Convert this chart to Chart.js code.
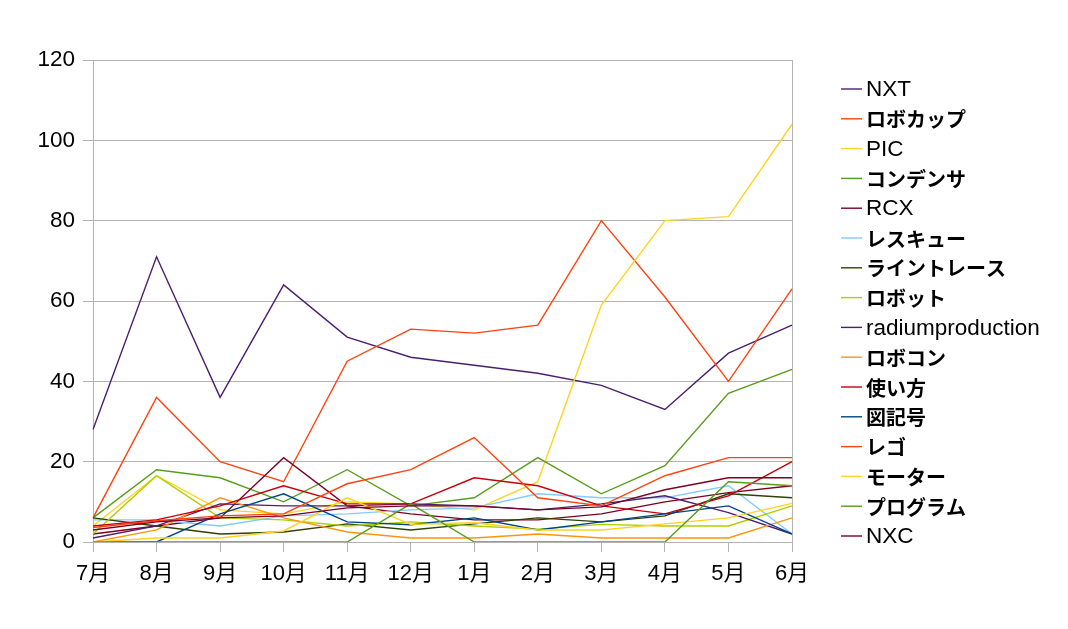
<!DOCTYPE html>
<html><head><meta charset="utf-8">
<script src="https://cdn.jsdelivr.net/npm/chart.js@4.4.0/dist/chart.umd.min.js"></script>
<style>html,body{margin:0;padding:0;background:#fff;overflow:hidden}#wrap{width:1068px;height:629px;position:relative}</style>
</head><body><div id="wrap"><canvas id="c" width="1068" height="629"></canvas></div>
<script>
const months = ['7月','8月','9月','10月','11月','12月','1月','2月','3月','4月','5月','6月'];
const yTicks = [0,20,40,60,80,100,120];

const NXT          = [28, 71, 36, 64, 51, 46, 44, 42, 39, 33, 47, 54];
const roboCup      = [6, 36, 20, 15, 45, 53, 52, 54, 80, 61, 40, 63];
const PIC          = [4, 16.5, 8, 7, 10, 9.5, 8, 15, 59, 80, 81, 104];
const condenser    = [6, 18, 16, 10, 18, 9, 11, 21, 12, 19, 37, 43];
const RCX          = [2, 4, 6, 21, 9, 7, 5.5, 5.5, 7, 10, 12.3, 14];
const rescue       = [5.5, 5.5, 4, 6.5, 7, 8, 8.5, 12, 11, 11, 14, 2];
const lineTrace    = [6, 4, 2, 2.5, 4.5, 3, 4.5, 6, 5, 6.5, 12, 11];
const robot        = [2, 16.5, 6, 5.5, 4, 5, 4, 3.2, 4.4, 4, 4, 9];
const radium       = [1, 4, 9.5, 9, 9, 9.5, 9, 8, 9.5, 11.5, 7.3, 2];
const robocon      = [0, 3, 11, 6, 2.5, 1, 1, 2, 1, 1, 1, 6];
const howTo        = [4, 5.5, 9, 14, 9.5, 9.5, 16, 14, 9, 7, 11.5, 20];
const symbols      = [0, 0, 7, 12, 5, 4.3, 6, 3, 5, 7, 9, 2];
const lego         = [3.6, 5.3, 6.5, 7, 14.5, 18, 26, 11, 9, 16.5, 21, 21];
const motor        = [0, 1, 1, 2.75, 11, 4.4, 4.8, 3, 3, 4.5, 6, 9.6];
const program      = [0, 0, 0, 0, 0, 9.5, 0, 0, 0, 0, 15, 14];
const NXC          = [3, 5, 6, 6.5, 8.5, 9, 9, 8, 8.75, 13, 16, 16];

const seriesNames = ['NXT','ロボカップ','PIC','コンデンサ','RCX','レスキュー','ライントレース','ロボット','radiumproduction','ロボコン','使い方','図記号','レゴ','モーター','プログラム','NXC'];
const seriesData = [NXT, roboCup, PIC, condenser, RCX, rescue, lineTrace, robot, radium, robocon, howTo, symbols, lego, motor, program, NXC];
const seriesColors = ['#4b1f6f','#ff420e','#ffd320','#579d1c','#7e0021','#83caff','#314004','#aecf00','#4b1f6f','#ff950e','#c5000b','#004586','#ff420e','#ffd320','#579d1c','#7e0021'];

const FONT = '"Liberation Sans", Arial, "Noto Sans CJK JP", sans-serif';
const LATIN_FONT = '22.5px "Liberation Sans", Arial, sans-serif';
const CJK_FONT = 'bold 20px "Noto Sans CJK JP", sans-serif';
const GRID = '#b3b3b3';

const datasets = seriesNames.map((n, i) => ({
  label: n,
  data: seriesData[i],
  borderColor: seriesColors[i],
  backgroundColor: seriesColors[i],
  borderWidth: 1.4,
  pointRadius: 0,
  tension: 0,
  fill: false,
  order: seriesNames.length - i
}));

function isCJK(ch) {
  const c = ch.codePointAt(0);
  return (c >= 0x3000 && c <= 0x30ff) || (c >= 0x4e00 && c <= 0x9fff) || (c >= 0xff00 && c <= 0xffef);
}

function drawMixed(ctx, text, x, y) {
  let cx = x;
  for (const ch of text) {
    ctx.font = isCJK(ch) ? CJK_FONT : LATIN_FONT;
    ctx.fillText(ch, cx, y);
    cx += ctx.measureText(ch).width;
  }
}

const legendPlugin = {
  id: 'sideLegend',
  afterDraw(chart) {
    const ctx = chart.ctx;
    ctx.save();
    ctx.textBaseline = 'middle';
    ctx.textAlign = 'left';
    chart.data.datasets.forEach((ds, i) => {
      const y = 89 + i * 29.8;
      ctx.strokeStyle = ds.borderColor;
      ctx.lineWidth = 1.4;
      ctx.beginPath();
      ctx.moveTo(841, y);
      ctx.lineTo(862, y);
      ctx.stroke();
      ctx.fillStyle = '#000';
      drawMixed(ctx, ds.label, 866, y + 1);
    });
    ctx.restore();
  }
};

new Chart(document.getElementById('c'), {
  type: 'line',
  data: { labels: months, datasets },
  options: {
    responsive: false,
    animation: false,
    devicePixelRatio: 1,
    layout: { padding: { left: 0, top: 60, right: 276, bottom: 0 } },
    plugins: { legend: { display: false }, tooltip: { enabled: false } },
    scales: {
      x: {
        offset: false,
        grid: { display: true, drawOnChartArea: false, drawTicks: true, tickLength: 10, color: GRID },
        border: { display: true, color: GRID, width: 1 },
        ticks: { color: '#000', font: { family: FONT, size: 22 }, padding: 9, maxRotation: 0, autoSkip: false },
        afterFit(s) { s.height = 87; }
      },
      y: {
        min: 0, max: 120,
        afterBuildTicks(s) { s.ticks = yTicks.map(v => ({ value: v })); },
        grid: { color: GRID, tickLength: 10, drawTicks: true },
        border: { display: true, color: GRID, width: 1 },
        ticks: { color: '#000', font: { family: FONT, size: 22.5 }, padding: 8 },
        afterFit(s) { s.width = 93; }
      },
      y2: {
        position: 'right',
        min: 0, max: 120,
        grid: { drawOnChartArea: false, drawTicks: false },
        border: { display: true, color: GRID, width: 1 },
        ticks: { display: false },
        afterFit(s) { s.width = 0; }
      }
    }
  },
  plugins: [legendPlugin]
});
</script>
</body></html>
